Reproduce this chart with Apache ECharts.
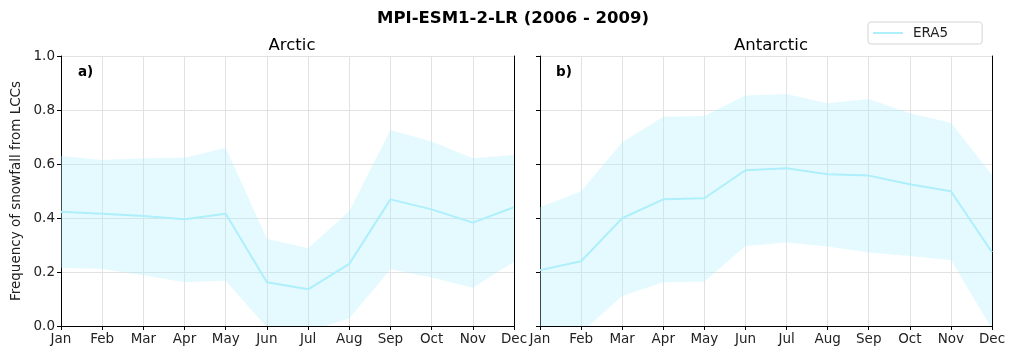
<!DOCTYPE html>
<html><head><meta charset="utf-8">
<script src="https://cdn.jsdelivr.net/npm/echarts@6/dist/echarts.min.js"></script>
<style>html,body{margin:0;padding:0;background:#fff}#c{width:1015px;height:360px}</style>
</head><body><div id="c"></div>
<script>
const months = ['Jan','Feb','Mar','Apr','May','Jun','Jul','Aug','Sep','Oct','Nov','Dec'];
const yTicks = [0.0, 0.2, 0.4, 0.6, 0.8, 1.0];
const arcticMean  = [0.423,0.416,0.407,0.395,0.416,0.162,0.136,0.230,0.469,0.432,0.383,0.440];
const arcticUpper = [0.630,0.615,0.621,0.623,0.660,0.323,0.288,0.425,0.726,0.683,0.621,0.633];
const arcticLower = [0.216,0.211,0.188,0.162,0.168,-0.005,-0.020,0.028,0.210,0.180,0.142,0.238];
const antMean  = [0.207,0.240,0.399,0.469,0.473,0.577,0.584,0.562,0.557,0.525,0.499,0.273];
const antUpper = [0.440,0.499,0.681,0.775,0.778,0.854,0.859,0.825,0.841,0.788,0.753,0.559];
const antLower = [-0.010,-0.025,0.111,0.162,0.164,0.296,0.309,0.294,0.272,0.259,0.244,-0.010];

const lineColor = '#aeeffc';
const fillColor = 'rgba(174,239,252,0.32)';
const font = 'DejaVu Sans';
const fs = 13.5;

function diff(u,l){return u.map((v,i)=>+(v-l[i]).toFixed(4));}

const chart = echarts.init(document.getElementById('c'));
function xAxis(idx){
  return {type:'category', gridIndex:idx, data:months, boundaryGap:false,
    axisLine:{show:true, lineStyle:{color:'#000',width:1}},
    axisTick:{show:true, length:4, inside:false, alignWithLabel:true, lineStyle:{color:'#000'}},
    axisLabel:{color:'#222', fontFamily:font, fontSize:fs, margin:6, interval:0},
    splitLine:{show:true, lineStyle:{color:'#e2e2e2', width:1}}};
}
function xAxisTop(idx){
  return {type:'category', gridIndex:idx, data:months, boundaryGap:false, position:'top',
    axisLine:{show:true, lineStyle:{color:'#000',width:1}}, axisTick:{show:false}, axisLabel:{show:false}, splitLine:{show:false}};
}
function yAxis(idx, showLabel){
  return {type:'value', gridIndex:idx, min:0, max:1, interval:0.2,
    axisLine:{show:true, lineStyle:{color:'#000',width:1}},
    axisTick:{show:true, length:4, lineStyle:{color:'#000'}},
    axisLabel:{show:showLabel, color:'#222', fontFamily:font, fontSize:fs, margin:6,
      formatter:v=>{const t=yTicks.find(x=>Math.abs(x-v)<1e-6);return t===undefined?'':t.toFixed(1);}},
    splitLine:{show:true, lineStyle:{color:'#e2e2e2', width:1}},
    name: showLabel ? 'Frequency of snowfall from LCCs' : '',
    nameLocation:'middle', nameGap:38,
    nameTextStyle:{color:'#222', fontFamily:font, fontSize:fs}};
}
function yAxisRight(idx){
  return {type:'value', gridIndex:idx, min:0, max:1, interval:0.2, position:'right',
    axisLine:{show:true, lineStyle:{color:'#000',width:1}}, axisTick:{show:false}, axisLabel:{show:false}, splitLine:{show:false}};
}
function band(idx, lower, upper, mean, stackName, withName){
  return [
    {type:'line', xAxisIndex:idx, yAxisIndex:idx, data:lower, stack:stackName, stackStrategy:'all',
     symbol:'none', lineStyle:{width:0, opacity:0}, silent:true, z:1},
    {type:'line', xAxisIndex:idx, yAxisIndex:idx, data:diff(upper,lower), stack:stackName, stackStrategy:'all',
     symbol:'none', lineStyle:{width:0, opacity:0}, areaStyle:{color:fillColor, opacity:1}, silent:true, z:1},
    {type:'line', name: withName ? 'ERA5' : undefined, xAxisIndex:idx, yAxisIndex:idx, data:mean,
     symbol:'none', lineStyle:{color:lineColor, width:2}, itemStyle:{color:lineColor}, z:3}
  ];
}
chart.setOption({
  animation:false,
  textStyle:{fontFamily:font},
  title:[
    {text:'MPI-ESM1-2-LR (2006 - 2009)', left:508, top:5, textAlign:'center',
     textStyle:{fontFamily:font, fontSize:16.5, fontWeight:'bold', color:'#000'}},
    {text:'Arctic', left:287, top:32, textAlign:'center', textStyle:{fontFamily:font, fontSize:16.5, fontWeight:'normal', color:'#000'}},
    {text:'Antarctic', left:766, top:32, textAlign:'center', textStyle:{fontFamily:font, fontSize:16.5, fontWeight:'normal', color:'#000'}},
    {text:'a)', left:73, top:60, textStyle:{fontFamily:font, fontSize:13.5, fontWeight:'bold', color:'#000'}},
    {text:'b)', left:551, top:60, textStyle:{fontFamily:font, fontSize:13.5, fontWeight:'bold', color:'#000'}}
  ],
  legend:{data:[{name:'ERA5', icon:'rect'}], left:868, top:22, padding:[4,34,4,5], itemWidth:30, itemHeight:2, itemGap:5,
    borderColor:'#d4d4d4', borderWidth:1, borderRadius:3, backgroundColor:'#fff',
    textStyle:{fontFamily:font, fontSize:fs, color:'#222', padding:[0,0,0,5]}},
  grid:[
    {left:61, right:501, top:56, bottom:34},
    {left:540, right:23, top:56, bottom:34}
  ],
  xAxis:[xAxis(0), xAxis(1), xAxisTop(0), xAxisTop(1)],
  yAxis:[yAxis(0,true), yAxis(1,false), yAxisRight(0), yAxisRight(1)],
  series:[...band(0, arcticLower, arcticUpper, arcticMean, 'a', true),
          ...band(1, antLower, antUpper, antMean, 'b', false)]
});
</script></body></html>
